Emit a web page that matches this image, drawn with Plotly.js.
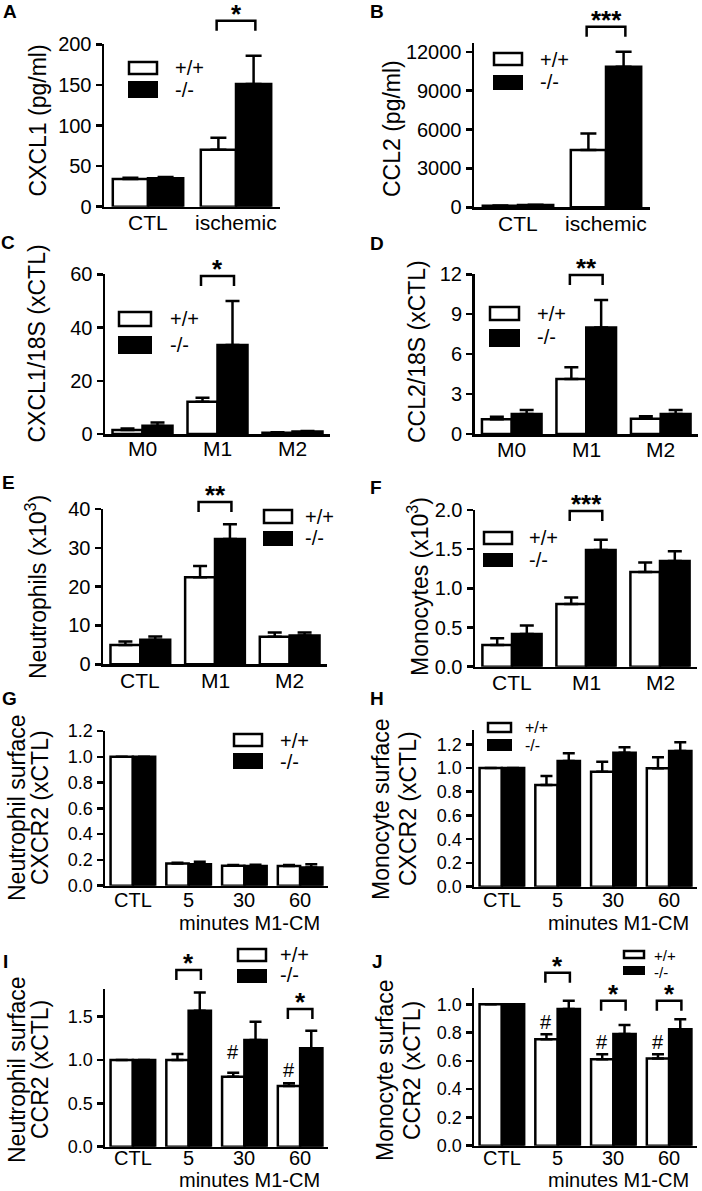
<!DOCTYPE html>
<html><head><meta charset="utf-8">
<script src="https://cdn.plot.ly/plotly-3.0.1.min.js"></script>
<style>html,body{margin:0;padding:0;background:#fff}#chart{width:702px;height:1191px}</style>
</head><body><div id="chart"></div>
<script>
// ---------------- data ----------------
const catsAB = ['CTL', 'ischemic'];
const catsCD = ['M0', 'M1', 'M2'];
const catsEF = ['CTL', 'M1', 'M2'];
const catsGJ = ['CTL', '5', '30', '60'];

// A: CXCL1 (pg/ml)
const cxcl1Wt = [34, 70],   cxcl1WtErr = [1.5, 15];
const cxcl1Ko = [35, 151],  cxcl1KoErr = [1.5, 35];
// B: CCL2 (pg/ml)
const ccl2Wt = [110, 4420],  ccl2WtErr = [30, 1280];
const ccl2Ko = [170, 10840], ccl2KoErr = [30, 1160];
// C: CXCL1/18S (xCTL)
const cxcl1mWt = [1.5, 12.1, 0.5], cxcl1mWtErr = [0.6, 1.5, 0.2];
const cxcl1mKo = [3.1, 33.4, 0.9], cxcl1mKoErr = [1.2, 16.6, 0.2];
// D: CCL2/18S (xCTL)
const ccl2mWt = [1.10, 4.13, 1.15], ccl2mWtErr = [0.20, 0.88, 0.18];
const ccl2mKo = [1.50, 8.00, 1.50], ccl2mKoErr = [0.30, 2.07, 0.30];
// E: Neutrophils (x10^3)
const neutWt = [5.0, 22.4, 7.1], neutWtErr = [0.85, 2.9, 1.1];
const neutKo = [6.3, 32.3, 7.4], neutKoErr = [0.85, 3.75, 0.8];
// F: Monocytes (x10^3)
const monoWt = [0.277, 0.80, 1.21], monoWtErr = [0.085, 0.085, 0.12];
const monoKo = [0.417, 1.49, 1.35], monoKoErr = [0.11, 0.13, 0.125];
// G: Neutrophil surface CXCR2
const nCxcr2Wt = [1.0, 0.173, 0.155, 0.153], nCxcr2WtErr = [0, 0.006, 0.005, 0.007];
const nCxcr2Ko = [1.0, 0.166, 0.153, 0.142], nCxcr2KoErr = [0, 0.02, 0.01, 0.024];
// H: Monocyte surface CXCR2
const mCxcr2Wt = [1.0, 0.857, 0.969, 0.997], mCxcr2WtErr = [0, 0.076, 0.084, 0.093];
const mCxcr2Ko = [1.0, 1.059, 1.129, 1.143], mCxcr2KoErr = [0, 0.065, 0.045, 0.073];
// I: Neutrophil surface CCR2
const nCcr2Wt = [1.0, 1.0, 0.808, 0.70],  nCcr2WtErr = [0, 0.069, 0.046, 0.031];
const nCcr2Ko = [1.0, 1.569, 1.231, 1.135], nCcr2KoErr = [0, 0.212, 0.211, 0.203];
// J: Monocyte surface CCR2
const mCcr2Wt = [1.0, 0.752, 0.611, 0.616], mCcr2WtErr = [0, 0.036, 0.035, 0.030];
const mCcr2Ko = [1.0, 0.967, 0.790, 0.823], mCcr2KoErr = [0, 0.057, 0.064, 0.071];

// significance brackets: group index, bracket top (data units), label
const sigA = [{g: 1, y: 229, t: '*'}];
const sigB = [{g: 1, y: 13925, t: '***'}];
const sigC = [{g: 1, y: 59.4, t: '*'}];
const sigD = [{g: 1, y: 11.95, t: '**'}];
const sigE = [{g: 1, y: 41.8, t: '**'}];
const sigF = [{g: 1, y: 1.987, t: '***'}];
const sigI = [{g: 1, y: 2.039, t: '*'}, {g: 3, y: 1.589, t: '*'}];
const sigJ = [{g: 1, y: 1.222, t: '*'}, {g: 2, y: 1.024, t: '*'}, {g: 3, y: 1.024, t: '*'}];
// '#' marks over +/+ bars: group index, centre (data units)
const hashI = [{g: 2, y: 1.093}, {g: 3, y: 0.885}];
const hashJ = [{g: 1, y: 0.875}, {g: 2, y: 0.734}, {g: 3, y: 0.734}];

const legendWt = '+/+', legendKo = '-/-';
const subLabel = 'minutes M1-CM';

// ---------------- layout helpers ----------------
const W = 702, H = 1191;
const FONT = 'Liberation Sans, Arial, Helvetica, sans-serif';
const fx = px => px / W;
const fy = py => 1 - py / H;

const panels = [
 {letter:'A', L:[10,11.5], cats:catsAB, wt:cxcl1Wt, wtE:cxcl1WtErr, ko:cxcl1Ko, koE:cxcl1KoErr,
  ymax:200, dtick:50, fmt:'d', box:[104,280,44.3,206.7], tfs:20, ew:8, xl:222.5, xfs:21,
  titles:[['CXCL1 (pg/ml)',37.5]], ty:121, leg:[128,158,61,75,81,98,173,68,90,20], sig:sigA},
 {letter:'B', L:[377,11.5], cats:catsAB, wt:ccl2Wt, wtE:ccl2WtErr, ko:ccl2Ko, koE:ccl2KoErr,
  ymax:12700, dtick:3000, fmt:'d', box:[474,650,42.7,207.3], tfs:20, ew:8, xl:224, xfs:21,
  titles:[['CCL2 (pg/ml)',392]], ty:129, leg:[493,523,52,66,75,90,538,60,82,20], sig:sigB},
 {letter:'C', L:[8,242.5], cats:catsCD, wt:cxcl1mWt, wtE:cxcl1mWtErr, ko:cxcl1mKo, koE:cxcl1mKoErr,
  ymax:60, dtick:20, fmt:'d', box:[105,330,274.3,434], tfs:20, ew:7, xl:448.7, xfs:21,
  titles:[['CXCL1/18S (xCTL)',36]], ty:343.5, leg:[118,152,311,327,336,354,168,319,345,20], sig:sigC},
 {letter:'D', L:[377,243.5], cats:catsCD, wt:ccl2mWt, wtE:ccl2mWtErr, ko:ccl2mKo, koE:ccl2mKoErr,
  ymax:12, dtick:3, fmt:'d', box:[474.5,698,274.3,434], tfs:20, ew:7, xl:449, xfs:21,
  titles:[['CCL2/18S (xCTL)',417]], ty:352, leg:[489,520,306,321,329,347,535,314,337,20], sig:sigD},
 {letter:'E', L:[8,482.5], cats:catsEF, wt:neutWt, wtE:neutWtErr, ko:neutKo, koE:neutKoErr,
  ymax:40, dtick:10, fmt:'d', box:[103,327,509,664.3], tfs:20, ew:7, xl:680.5, xfs:21,
  titles:[['Neutrophils (x10<sup>3</sup>)',36]], ty:587, leg:[263,293,509,524,531,546,303,517,538,20], sig:sigE},
 {letter:'F', L:[376,487.5], cats:catsEF, wt:monoWt, wtE:monoWtErr, ko:monoKo, koE:monoKoErr,
  ymax:2.0005, dtick:0.5, fmt:'.1f', box:[475,697,510,666.7], tfs:20, ew:7, xl:682, xfs:21,
  titles:[['Monocytes (x10<sup>3</sup>)',418]], ty:587, leg:[483,513,531,545,553,567,527,538,560,20], sig:sigF},
 {letter:'G', L:[9,698], cats:catsGJ, wt:nCxcr2Wt, wtE:nCxcr2WtErr, ko:nCxcr2Ko, koE:nCxcr2KoErr,
  ymax:1.2005, dtick:0.2, fmt:'.1f', box:[105,328,731,885.7], tfs:18, ew:6, xl:899.5, xfs:20,
  titles:[['Neutrophil surface',17],['CXCR2 (xCTL)',40]], ty:808, leg:[233,263,733,747,753,769,278,741,762,20], sig:[], sub:[249,922.5]},
 {letter:'H', L:[377,698], cats:catsGJ, wt:mCxcr2Wt, wtE:mCxcr2WtErr, ko:mCxcr2Ko, koE:mCxcr2KoErr,
  ymax:1.32, dtick:0.2, fmt:'.1f', box:[474,697,730,886.7], tfs:18, ew:6, xl:899.5, xfs:20,
  titles:[['Monocyte surface',381],['CXCR2 (xCTL)',408]], ty:809, leg:[487,512,722,733,739,751,523,727,745,16], sig:[], sub:[618,922.5]},
 {letter:'I', L:[5,961], cats:catsGJ, wt:nCcr2Wt, wtE:nCcr2WtErr, ko:nCcr2Ko, koE:nCcr2KoErr,
  ymax:1.82, dtick:0.5, fmt:'.1f', box:[105,328,989,1146.7], tfs:18, ew:6, xl:1158, xfs:20,
  titles:[['Neutrophil surface',17],['CCR2 (xCTL)',40]], ty:1070, leg:[237,267,948,962,969,983,278,955,975,20], sig:sigI, hash:hashI, sub:[249,1180]},
 {letter:'J', L:[377,961], cats:catsGJ, wt:mCcr2Wt, wtE:mCcr2WtErr, ko:mCcr2Ko, koE:mCcr2KoErr,
  ymax:1.115, dtick:0.2, fmt:'.1f', box:[474,697,988,1145.7], tfs:18, ew:6, xl:1158, xfs:20,
  titles:[['Monocyte surface',385],['CCR2 (xCTL)',412]], ty:1070, leg:[623,645,950,959,966,975,652,955,972,15], sig:sigJ, hash:hashJ, sub:[618,1180]}
];

const traces = [], shapes = [], annotations = [];
const layout = {
  width: W, height: H, margin: {l:0, r:0, t:0, b:0},
  paper_bgcolor: '#fff', plot_bgcolor: 'rgba(0,0,0,0)',
  barmode: 'group', bargap: 0.2, bargroupgap: 0, showlegend: false,
  font: {family: FONT, color: '#000'}
};

panels.forEach((p, i) => {
  const n = i === 0 ? '' : String(i + 1);
  const xa = 'x' + n, ya = 'y' + n;
  const [x0, x1, y0, y1] = p.box;
  const nc = p.cats.length;
  const mkErr = (arr, vals) => ({type:'data', symmetric:false, array:arr, arrayminus:vals.map(() => 0),
      color:'#000', thickness:2.5, width:p.ew});
  traces.push({type:'bar', x:p.cats, y:p.wt, xaxis:xa, yaxis:ya, name:legendWt,
    marker:{color:'#fff', line:{color:'#000', width:2.5}}, error_y:mkErr(p.wtE, p.wt),
    cliponaxis:false, hoverinfo:'skip'});
  traces.push({type:'bar', x:p.cats, y:p.ko, xaxis:xa, yaxis:ya, name:legendKo,
    marker:{color:'#000', line:{color:'#000', width:2.5}}, error_y:mkErr(p.koE, p.ko),
    cliponaxis:false, hoverinfo:'skip'});

  layout['xaxis' + n] = {domain:[fx(x0), fx(x1)], anchor:ya, type:'category',
    range:[-0.5, nc - 0.5], showline:true, linecolor:'#000', linewidth:2.5, ticks:'',
    showticklabels:false, showgrid:false, zeroline:false, fixedrange:true};
  layout['yaxis' + n] = {domain:[fy(y1), fy(y0)], anchor:xa, range:[0, p.ymax],
    tick0:0, dtick:p.dtick, tickformat:p.fmt, showline:true, linecolor:'#000', linewidth:2.5,
    ticks:'outside', ticklen:6, tickwidth:2.5, tickcolor:'#000',
    showgrid:false, zeroline:false, fixedrange:true,
    tickfont:{family:FONT, size:p.tfs, color:'#000'}};

  // category labels under the x axis (placed on the category scale)
  p.cats.forEach((c, k) => annotations.push({xref:xa, yref:'paper', x:k, y:fy(p.xl),
    xanchor:'center', yanchor:'middle', borderpad:0, text:c, showarrow:false,
    font:{family:FONT, size:p.xfs, color:'#000'}}));

  // panel letter
  annotations.push({xref:'paper', yref:'paper', x:fx(p.L[0]), y:fy(p.L[1]), xanchor:'center', yanchor:'middle',
    text:'<b>' + p.letter + '</b>', showarrow:false, font:{family:FONT, size:19, color:'#000'}});
  // y titles
  p.titles.forEach(t => annotations.push({xref:'paper', yref:'paper', x:fx(t[1]), y:fy(p.ty),
    xanchor:'center', yanchor:'middle', textangle:-90, text:t[0], showarrow:false,
    font:{family:FONT, size:23, color:'#000'}}));
  // sub label
  if (p.sub) annotations.push({xref:'paper', yref:'paper', x:fx(p.sub[0]), y:fy(p.sub[1]),
    xanchor:'center', yanchor:'middle', borderpad:0, text:subLabel, showarrow:false,
    font:{family:FONT, size:p.xfs, color:'#000'}});
  // legend
  const lg = p.leg;
  shapes.push({type:'rect', xref:'paper', yref:'paper', x0:fx(lg[0]+1), x1:fx(lg[1]-1), y0:fy(lg[2]+1), y1:fy(lg[3]-1),
    fillcolor:'#fff', line:{color:'#000', width:2.5}});
  shapes.push({type:'rect', xref:'paper', yref:'paper', x0:fx(lg[0]), x1:fx(lg[1]), y0:fy(lg[4]), y1:fy(lg[5]),
    fillcolor:'#000', line:{color:'#000', width:0}});
  annotations.push({xref:'paper', yref:'paper', x:fx(lg[6]), y:fy(lg[7]), xanchor:'left', yanchor:'middle',
    text:legendWt, showarrow:false, font:{family:FONT, size:lg[9], color:'#000'}});
  annotations.push({xref:'paper', yref:'paper', x:fx(lg[6]), y:fy(lg[8]), xanchor:'left', yanchor:'middle',
    text:legendKo, showarrow:false, font:{family:FONT, size:lg[9], color:'#000'}});

  // brackets + stars (domain-referenced so they may sit above the axis range)
  const legFrac = 10 / (y1 - y0);
  const xd = c => (c + 0.5) / nc;
  (p.sig || []).forEach(s => {
    const top = s.y / p.ymax;
    shapes.push({type:'path', xref:xa + ' domain', yref:ya + ' domain',
      path:'M' + xd(s.g - 0.22) + ',' + (top - legFrac) + 'L' + xd(s.g - 0.22) + ',' + top +
           'L' + xd(s.g + 0.22) + ',' + top + 'L' + xd(s.g + 0.22) + ',' + (top - legFrac),
      line:{color:'#000', width:2.5}});
    annotations.push({xref:xa + ' domain', yref:ya + ' domain', x:xd(s.g), y:top, xanchor:'center',
      yanchor:'bottom', yshift:-10, text:'<b>' + s.t + '</b>', showarrow:false,
      font:{family:FONT, size:26, color:'#000'}});
  });
  (p.hash || []).forEach(h => {
    annotations.push({xref:xa + ' domain', yref:ya + ' domain', x:xd(h.g - 0.2), y:h.y / p.ymax,
      xanchor:'center', yanchor:'middle', text:'#', showarrow:false, font:{family:FONT, size:20, color:'#000'}});
  });
});

layout.shapes = shapes;
layout.annotations = annotations;
Plotly.newPlot('chart', traces, layout, {staticPlot:true, displayModeBar:false});
</script>
</body></html>
